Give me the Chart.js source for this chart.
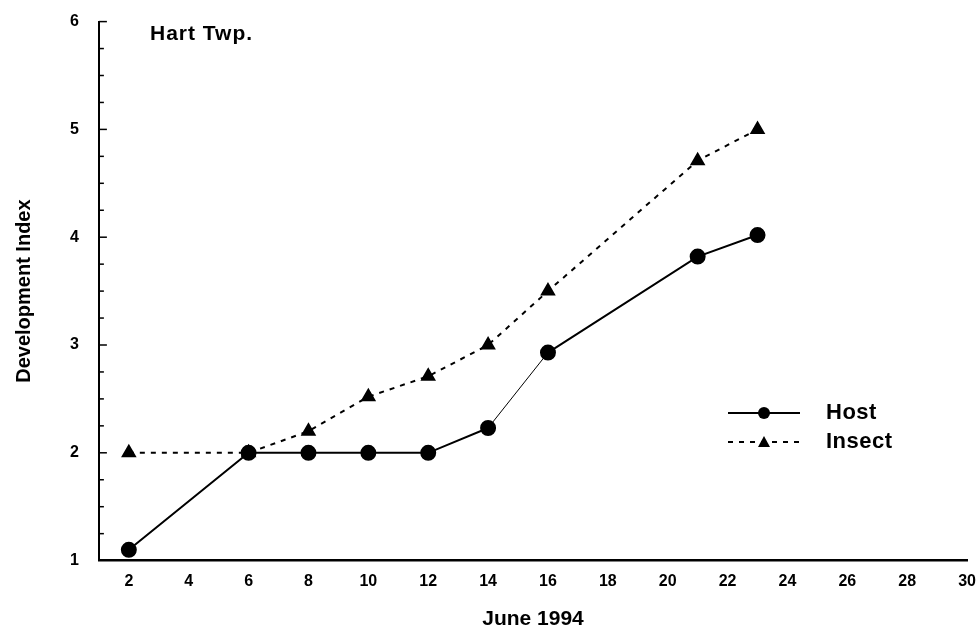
<!DOCTYPE html>
<html>
<head>
<meta charset="utf-8">
<script src="https://cdn.jsdelivr.net/npm/chart.js@4/dist/chart.umd.min.js"></script>
<style>
  html, body { margin: 0; padding: 0; background: #fff; }
  #wrap { width: 979px; height: 632px; }
</style>
</head>
<body>
<div id="wrap"><canvas id="chart" width="979" height="632"></canvas></div>
<script>
const days = [2, 6, 8, 10, 12, 14, 16, 21, 23]
const hostIndex = [1.1, 2.0, 2.0, 2.0, 2.0, 2.23, 2.93, 3.82, 4.02]
const insectIndex = [2.0, 2.0, 2.2, 2.52, 2.71, 3.0, 3.5, 4.71, 5.0]
const xTicks = [2, 4, 6, 8, 10, 12, 14, 16, 18, 20, 22, 24, 26, 28, 30]
const yTicks = [1, 2, 3, 4, 5, 6]
const seriesNames = ["Host", "Insect"]
const panelLabel = "Hart Twp."

const font = "'Liberation Sans', Arial, sans-serif"

function points(ys) {
  return days.map((d, i) => ({ x: d, y: ys[i] }))
}

// minor ticks on the y axis (pointing inward) + panel label + legend
const extras = {
  id: 'extras',
  afterDraw(chart) {
    const c = chart.ctx
    const y = chart.scales.y
    const left = chart.chartArea.left
    c.save()
    c.strokeStyle = '#000'
    c.lineWidth = 1.5
    for (let v = 1.25; v <= 6; v += 0.25) {
      const py = y.getPixelForValue(v)
      const major = Math.abs(v - Math.round(v)) < 0.01
      c.beginPath()
      c.moveTo(left, py)
      c.lineTo(left + (major ? 8 : 5), py)
      c.stroke()
    }

    c.fillStyle = '#000'
    c.font = "bold 21px " + font
    c.textBaseline = 'middle'
    c.letterSpacing = '1px'
    c.fillText(panelLabel, 150, 34)

    // legend
    const rows = [413, 442]
    chart.data.datasets.forEach((ds, i) => {
      const ly = rows[i]
      c.strokeStyle = '#000'
      c.lineWidth = 2
      c.setLineDash(ds.borderDash || [])
      c.beginPath()
      c.moveTo(728, ly)
      c.lineTo(800, ly)
      c.stroke()
      c.setLineDash([])
      c.fillStyle = '#000'
      if (ds.pointStyle === 'triangle') {
        c.beginPath()
        c.moveTo(764, ly - 6)
        c.lineTo(770, ly + 5)
        c.lineTo(758, ly + 5)
        c.closePath()
        c.fill()
      } else {
        c.beginPath()
        c.arc(764, ly, 6, 0, Math.PI * 2)
        c.fill()
      }
      c.font = "bold 22px " + font
      c.letterSpacing = '0.5px'
      c.fillText(ds.label, 826, ly)
    })
    c.restore()
  }
}

new Chart(document.getElementById('chart'), {
  type: 'scatter',
  data: {
    datasets: [{
      label: seriesNames[0],
      data: points(hostIndex),
      showLine: true,
      borderColor: '#000',
      backgroundColor: '#000',
      borderWidth: 2,
      pointStyle: 'circle',
      pointRadius: 7,
      segment: {
        borderWidth: ctx => ctx.p0.parsed.x === 14 ? 1 : 2
      }
    }, {
      label: seriesNames[1],
      data: points(insectIndex),
      showLine: true,
      borderColor: '#000',
      backgroundColor: '#000',
      borderWidth: 2,
      borderDash: [5, 6],
      pointStyle: 'triangle',
      pointRadius: 7
    }]
  },
  options: {
    responsive: false,
    animation: false,
    layout: { padding: { top: 13, right: 7, left: 12, bottom: 0 } },
    plugins: {
      legend: { display: false },
      tooltip: { enabled: false }
    },
    scales: {
      x: {
        type: 'linear',
        min: 1,
        max: 30,
        afterBuildTicks: axis => { axis.ticks = xTicks.map(v => ({ value: v })) },
        grid: { display: false },
        border: { display: true, color: '#000', width: 2.5 },
        ticks: {
          color: '#000',
          font: { family: font, size: 16, weight: 'bold' },
          padding: 3,
          maxRotation: 0
        },
        title: {
          display: true,
          text: 'June 1994',
          color: '#000',
          font: { family: font, size: 21, weight: 'bold' },
          padding: { top: 13, bottom: 0 }
        }
      },
      y: {
        min: 1,
        max: 6,
        afterBuildTicks: axis => { axis.ticks = yTicks.map(v => ({ value: v })) },
        grid: { display: false },
        border: { display: true, color: '#000', width: 2 },
        ticks: {
          color: '#000',
          font: { family: font, size: 16, weight: 'bold' },
          padding: 12
        },
        title: {
          display: true,
          text: 'Development Index',
          color: '#000',
          font: { family: font, size: 20, weight: 'bold' },
          padding: { top: 0, bottom: 22 }
        }
      }
    }
  },
  plugins: [extras]
})
</script>
</body>
</html>
